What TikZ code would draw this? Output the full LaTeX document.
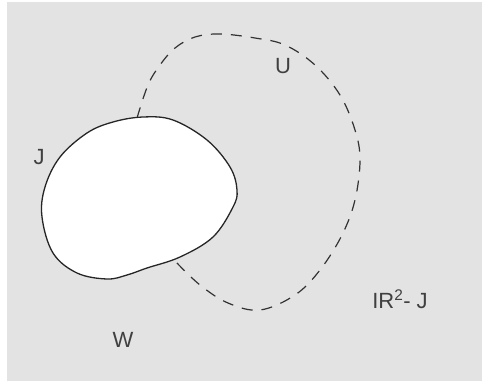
\documentclass[tikz,border=0pt]{standalone}
\usepackage{fontspec}
\setmainfont{Liberation Sans}
\begin{document}
\begin{tikzpicture}[x=1pt,y=-1pt,
  lbl/.style={text=black!75, font=\fontsize{22}{26}\selectfont, inner sep=0pt},
  curveJ/.style={draw=black!85, line width=1.3pt, fill=white},
  curveU/.style={draw=black!80, line width=1.2pt, dash pattern=on 11pt off 9pt}]
  % canvas
  \useasboundingbox (0,0) rectangle (482,381);
  \fill[white] (0,0) rectangle (482,381);
  \fill[black!11] (7,2) rectangle (482,381);

  % the region U, dashed, leaving the top of J
  \draw[curveU] plot[smooth, tension=0.6] coordinates {
    (137,118) (148,85) (160,65) (175,48) (195,37) (220,34) (255,38)
    (285,45) (315,65) (340,95) (355,130) (360,160) (355,200) (342,235)
    (320,270) (295,295) (260,310) (228,303) (200,285) (176,262)};

  % the closed curve J
  \draw[curveJ] plot[smooth cycle, tension=0.6] coordinates {
    (237,190) (233,207) (213,237) (180,257) (147,268) (127,275) (107,279)
    (77,273) (53,253) (42,217) (45,187) (60,157) (87,133) (113,122)
    (143,117) (173,120) (207,140) (230,167)};

  % labels
  \node[lbl] (U) at (283,66) {U};
  \node[lbl] (J) at (39,157) {J};
  \node[lbl] (W) at (123,340) {W};
  \node[lbl] (R) at (400,299) {IR\textsuperscript{2}- J};
\end{tikzpicture}
\end{document}
